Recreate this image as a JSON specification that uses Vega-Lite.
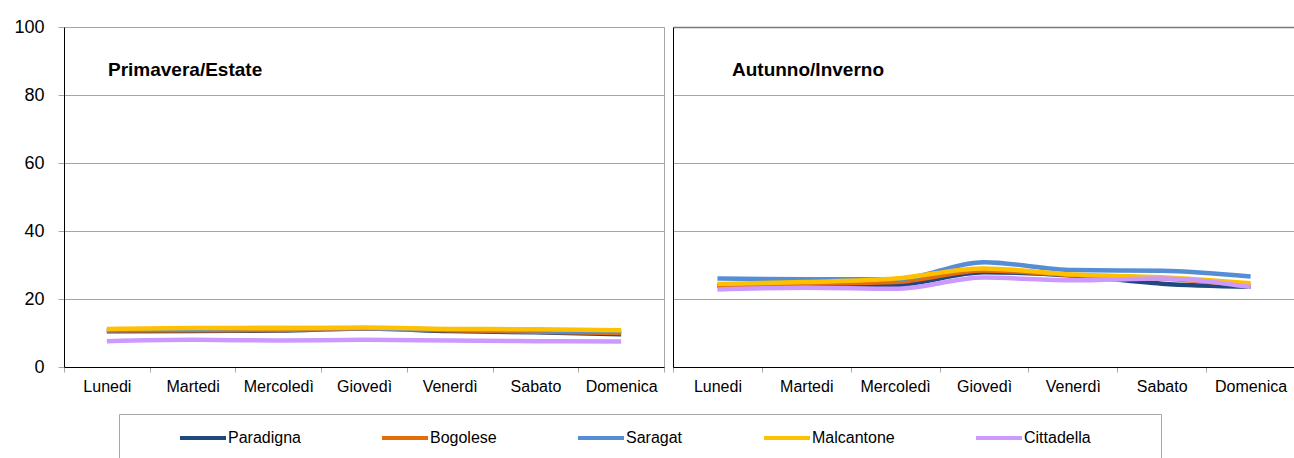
{
  "$schema": "https://vega.github.io/schema/vega-lite/v6.json",
  "padding": {"left": 13, "top": 17, "right": 0, "bottom": 0},
  "background": "white",
  "bounds": "flush",
  "spacing": 9,
  "datasets": {
    "spring": [
      {"day": "Lunedi", "series": "Paradigna", "value": 10.5},
      {"day": "Martedi", "series": "Paradigna", "value": 10.6},
      {"day": "Mercoledì", "series": "Paradigna", "value": 10.7},
      {"day": "Giovedì", "series": "Paradigna", "value": 11.3},
      {"day": "Venerdì", "series": "Paradigna", "value": 10.6},
      {"day": "Sabato", "series": "Paradigna", "value": 10.2},
      {"day": "Domenica", "series": "Paradigna", "value": 9.6},
      {"day": "Lunedi", "series": "Bogolese", "value": 10.7},
      {"day": "Martedi", "series": "Bogolese", "value": 10.8},
      {"day": "Mercoledì", "series": "Bogolese", "value": 10.9},
      {"day": "Giovedì", "series": "Bogolese", "value": 11.3},
      {"day": "Venerdì", "series": "Bogolese", "value": 10.8},
      {"day": "Sabato", "series": "Bogolese", "value": 10.4},
      {"day": "Domenica", "series": "Bogolese", "value": 10.0},
      {"day": "Lunedi", "series": "Saragat", "value": 10.8},
      {"day": "Martedi", "series": "Saragat", "value": 11.2},
      {"day": "Mercoledì", "series": "Saragat", "value": 11.5},
      {"day": "Giovedì", "series": "Saragat", "value": 11.4},
      {"day": "Venerdì", "series": "Saragat", "value": 11.0},
      {"day": "Sabato", "series": "Saragat", "value": 10.8},
      {"day": "Domenica", "series": "Saragat", "value": 10.3},
      {"day": "Lunedi", "series": "Malcantone", "value": 11.2},
      {"day": "Martedi", "series": "Malcantone", "value": 11.5},
      {"day": "Mercoledì", "series": "Malcantone", "value": 11.4},
      {"day": "Giovedì", "series": "Malcantone", "value": 11.6},
      {"day": "Venerdì", "series": "Malcantone", "value": 11.2},
      {"day": "Sabato", "series": "Malcantone", "value": 11.1},
      {"day": "Domenica", "series": "Malcantone", "value": 10.8},
      {"day": "Lunedi", "series": "Cittadella", "value": 7.6},
      {"day": "Martedi", "series": "Cittadella", "value": 8.0},
      {"day": "Mercoledì", "series": "Cittadella", "value": 7.8},
      {"day": "Giovedì", "series": "Cittadella", "value": 8.0},
      {"day": "Venerdì", "series": "Cittadella", "value": 7.8},
      {"day": "Sabato", "series": "Cittadella", "value": 7.6},
      {"day": "Domenica", "series": "Cittadella", "value": 7.5}
    ],
    "autumn": [
      {"day": "Lunedi", "series": "Paradigna", "value": 23.8},
      {"day": "Martedi", "series": "Paradigna", "value": 24.2},
      {"day": "Mercoledì", "series": "Paradigna", "value": 24.2},
      {"day": "Giovedì", "series": "Paradigna", "value": 27.9},
      {"day": "Venerdì", "series": "Paradigna", "value": 26.9},
      {"day": "Sabato", "series": "Paradigna", "value": 24.5},
      {"day": "Domenica", "series": "Paradigna", "value": 23.6},
      {"day": "Lunedi", "series": "Bogolese", "value": 24.0},
      {"day": "Martedi", "series": "Bogolese", "value": 24.5},
      {"day": "Mercoledì", "series": "Bogolese", "value": 25.0},
      {"day": "Giovedì", "series": "Bogolese", "value": 28.4},
      {"day": "Venerdì", "series": "Bogolese", "value": 27.0},
      {"day": "Sabato", "series": "Bogolese", "value": 26.0},
      {"day": "Domenica", "series": "Bogolese", "value": 24.0},
      {"day": "Lunedi", "series": "Saragat", "value": 26.0},
      {"day": "Martedi", "series": "Saragat", "value": 25.8},
      {"day": "Mercoledì", "series": "Saragat", "value": 25.8},
      {"day": "Giovedì", "series": "Saragat", "value": 30.8},
      {"day": "Venerdì", "series": "Saragat", "value": 28.5},
      {"day": "Sabato", "series": "Saragat", "value": 28.3},
      {"day": "Domenica", "series": "Saragat", "value": 26.6},
      {"day": "Lunedi", "series": "Malcantone", "value": 24.4},
      {"day": "Martedi", "series": "Malcantone", "value": 25.0},
      {"day": "Mercoledì", "series": "Malcantone", "value": 26.0},
      {"day": "Giovedì", "series": "Malcantone", "value": 29.0},
      {"day": "Venerdì", "series": "Malcantone", "value": 27.2},
      {"day": "Sabato", "series": "Malcantone", "value": 26.4},
      {"day": "Domenica", "series": "Malcantone", "value": 24.6},
      {"day": "Lunedi", "series": "Cittadella", "value": 22.8},
      {"day": "Martedi", "series": "Cittadella", "value": 23.3},
      {"day": "Mercoledì", "series": "Cittadella", "value": 23.0},
      {"day": "Giovedì", "series": "Cittadella", "value": 26.3},
      {"day": "Venerdì", "series": "Cittadella", "value": 25.5},
      {"day": "Sabato", "series": "Cittadella", "value": 26.0},
      {"day": "Domenica", "series": "Cittadella", "value": 23.5}
    ]
  },
  "hconcat": [
    {
      "width": 600,
      "height": 340,
      "data": {"name": "spring"},
      "view": {"stroke": "#A6A6A6"},
      "title": {"text": "Primavera/Estate", "anchor": "start", "frame": "group", "dx": 44, "offset": -77, "baseline": "alphabetic", "fontSize": 19, "fontWeight": "bold", "color": "black"},
      "mark": {"type": "line", "interpolate": "monotone", "strokeWidth": 4.5},
      "encoding": {
        "x": {
          "field": "day", "type": "nominal",
          "sort": ["Lunedi", "Martedi", "Mercoledì", "Giovedì", "Venerdì", "Sabato", "Domenica"],
          "bandPosition": 0.5,
          "scale": {"type": "band", "paddingInner": 0, "paddingOuter": 0},
          "axis": {"title": null, "domainColor": "black", "tickBand": "extent", "tickColor": "#A6A6A6", "tickSize": 5, "labelFontSize": 16, "labelPadding": 6, "labelColor": "black", "labelAngle": 0, "grid": false}
        },
        "y": {
          "field": "value", "type": "quantitative",
          "scale": {"domain": [0, 100], "nice": false},
          "axis": {"title": null, "values": [0, 20, 40, 60, 80, 100], "domainColor": "black", "tickColor": "#A6A6A6", "tickSize": 6, "labelPadding": 14, "labelFontSize": 18, "labelColor": "black", "grid": true, "gridColor": "#A6A6A6"}
        },
        "color": {
          "field": "series", "type": "nominal",
          "scale": {"domain": ["Paradigna", "Bogolese", "Saragat", "Malcantone", "Cittadella"], "range": ["#1F497D", "#E46C0A", "#558ED5", "#FFC000", "#CC99FF"]},
          "legend": {"orient": "none", "legendX": 55, "legendY": 387, "direction": "horizontal", "title": " ", "titleOrient": "left", "titlePadding": 43, "titleFontSize": 12, "symbolType": "stroke", "symbolSize": 2116, "symbolStrokeWidth": 4, "clipHeight": 16, "labelFontSize": 16, "labelColor": "black", "labelOffset": 0, "columnPadding": 79, "padding": 16, "strokeColor": "#A6A6A6", "labelExpr": "datum.label == 'Cittadella' ? 'Cittadella\u00a0\u00a0\u00a0\u00a0\u00a0\u00a0\u00a0\u00a0\u00a0\u00a0\u00a0\u00a0\u200b' : datum.label"}
        }
      }
    },
    {
      "width": 622,
      "height": 340,
      "data": {"name": "autumn"},
      "view": {"stroke": null},
      "title": {"text": "Autunno/Inverno", "anchor": "start", "frame": "group", "dx": 59, "offset": -68, "baseline": "alphabetic", "fontSize": 19, "fontWeight": "bold", "color": "black"},
      "mark": {"type": "line", "interpolate": "monotone", "strokeWidth": 4.5},
      "encoding": {
        "x": {
          "field": "day", "type": "nominal",
          "sort": ["Lunedi", "Martedi", "Mercoledì", "Giovedì", "Venerdì", "Sabato", "Domenica"],
          "bandPosition": 0.5,
          "scale": {"type": "band", "paddingInner": 0, "paddingOuter": 0},
          "axis": {"title": null, "domainColor": "black", "tickBand": "extent", "tickColor": "#A6A6A6", "tickSize": 5, "labelFontSize": 16, "labelPadding": 6, "labelColor": "black", "labelAngle": 0, "grid": false}
        },
        "y": {
          "field": "value", "type": "quantitative",
          "scale": {"domain": [0, 100], "nice": false},
          "axis": {"title": null, "values": [0, 20, 40, 60, 80, 100], "labels": false, "ticks": false, "domainColor": "black", "grid": true, "gridColor": {"condition": {"test": "datum.value == 100", "value": "#7A7A7A"}, "value": "#A6A6A6"}, "gridWidth": {"condition": {"test": "datum.value == 100", "value": 1.5}, "value": 1}}
        },
        "color": {
          "field": "series", "type": "nominal",
          "scale": {"domain": ["Paradigna", "Bogolese", "Saragat", "Malcantone", "Cittadella"], "range": ["#1F497D", "#E46C0A", "#558ED5", "#FFC000", "#CC99FF"]},
          "legend": {"orient": "none", "legendX": 55, "legendY": 387, "direction": "horizontal", "title": " ", "titleOrient": "left", "titlePadding": 43, "titleFontSize": 12, "symbolType": "stroke", "symbolSize": 2116, "symbolStrokeWidth": 4, "clipHeight": 16, "labelFontSize": 16, "labelColor": "black", "labelOffset": 0, "columnPadding": 79, "padding": 16, "strokeColor": "#A6A6A6", "labelExpr": "datum.label == 'Cittadella' ? 'Cittadella\u00a0\u00a0\u00a0\u00a0\u00a0\u00a0\u00a0\u00a0\u00a0\u00a0\u00a0\u00a0\u200b' : datum.label"}
        }
      }
    }
  ],
  "config": {
    "font": "Liberation Sans",
    "axis": {"domainWidth": 1, "gridWidth": 1, "tickWidth": 1},
    "title": {"font": "Liberation Sans"}
  }
}
